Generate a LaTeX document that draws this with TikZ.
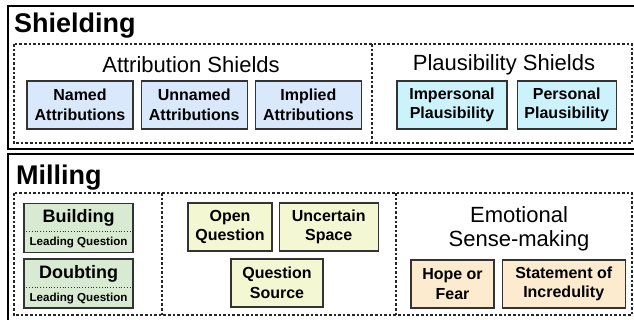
\documentclass[tikz,border=0pt]{standalone}
\usepackage{fontspec}
\setmainfont{Liberation Sans}
\usetikzlibrary{calc,positioning}
\definecolor{attrib}{HTML}{dae8fc}
\definecolor{plaus}{HTML}{ccf2fc}
\definecolor{leading}{HTML}{d9ead3}
\definecolor{question}{HTML}{f4f8d2}
\definecolor{emotion}{HTML}{fdebcf}
\definecolor{edge}{HTML}{333333}

\begin{document}
\begin{tikzpicture}[
    x=1pt, y=-1pt,
    frame/.style={draw=black, line width=1.6pt},
    group/.style={draw=black!85, line width=1.1pt, dash pattern=on 2.6pt off 2pt},
    title/.style={font=\fontsize{27}{30}\selectfont\bfseries, anchor=base west, inner sep=0pt},
    heading/.style={font=\fontsize{22}{24.5}\selectfont, align=center, inner sep=0pt},
    code/.style={rectangle, draw=edge, line width=1.2pt, align=center, inner sep=0pt,
                 minimum height=48pt, font=\fontsize{16}{19.5}\selectfont\bfseries},
    attrbox/.style={code, fill=attrib},
    plausbox/.style={code, fill=plaus},
    questbox/.style={code, fill=question},
    emobox/.style={code, fill=emotion},
    leadbox/.style={code, fill=leading, minimum width=109pt, minimum height=49pt},
]
\useasboundingbox (0,0) rectangle (634,320);

% outer frames run off the right (and bottom) edge
\begin{scope}
    \clip (0,0) rectangle (634,320);
    \draw[frame] (8,6) rectangle (660,149);
    \draw[frame] (8,154) rectangle (660,340);
\end{scope}

% Helper: code box with a small sub label under a dotted rule
\newcommand{\drawleadbox}[3]{
    % #1 = name, #2 = centre, #3 = main label
    \node[leadbox] (#1) at (#2) {};
    \node[inner sep=0pt, font=\fontsize{18}{20}\selectfont\bfseries]
        (#1-top) at ([yshift=-15pt]#1.north) {#3};
    \node[inner sep=0pt, font=\fontsize{11.6}{13}\selectfont\bfseries]
        (#1-sub) at ([yshift=10.5pt]#1.south) {Leading Question};
    \draw[edge, dotted, line width=0.8pt]
        ([yshift=-29pt]#1.north west) -- ([yshift=-29pt]#1.north east);
}

% ── Shielding ──
\node[title] (shielding) at (14,33) {Shielding};
\draw[group] (14,44) rectangle (632,143);
\draw[group] (372,44) -- (372,143);

\node[heading] (attrhead) at (191,65) {Attribution Shields};
\node[attrbox, minimum width=106pt] (named) at (80,105) {Named\\Attributions};
\node[attrbox, minimum width=106pt, right=7pt of named] (unnamed) {Unnamed\\Attributions};
\node[attrbox, minimum width=106pt, right=7pt of unnamed] (implied) {Implied\\Attributions};

\node[heading] (plaushead) at (504,65) {Plausibility Shields};
\node[plausbox, minimum width=110pt] (impersonal) at (452,105) {Impersonal\\Plausibility};
\node[plausbox, minimum width=99pt, right=9pt of impersonal] (personal) {Personal\\Plausibility};

% ── Milling ──
\node[title] (milling) at (16,185) {Milling};
\draw[group] (14,193) rectangle (632,315);
\draw[group] (162,193) -- (162,315);
\draw[group] (396,193) -- (396,315);

\drawleadbox{building}{78.5,228}{Building}
\drawleadbox{doubting}{78.5,283.5}{Doubting}

\node[questbox, minimum width=84pt] (openq) at (230,227) {Open\\Question};
\node[questbox, minimum width=99pt, right=6pt of openq] (uncertain) {Uncertain\\Space};
\node[questbox, minimum width=92pt] (qsource) at (277,283) {Question\\Source};

\node[heading] (emohead) at (519,229) {Emotional\\Sense-making};
\node[emobox, minimum width=83pt] (hope) at (452.5,284) {Hope or\\Fear};
\node[emobox, minimum width=123pt, right=7pt of hope] (incred) {Statement of\\Incredulity};

\end{tikzpicture}
\end{document}
